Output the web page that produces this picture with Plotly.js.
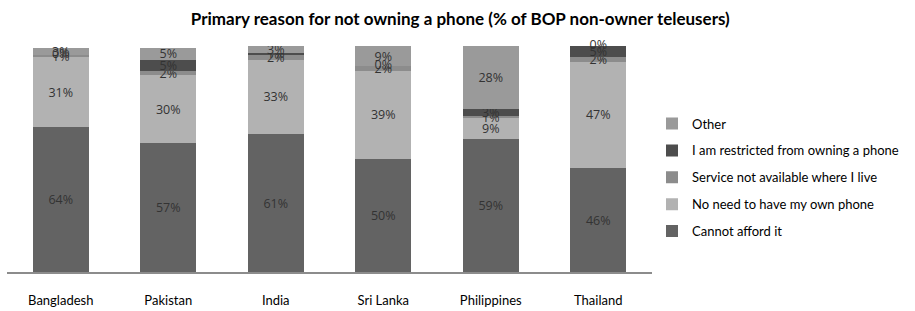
<!DOCTYPE html>
<html><head><meta charset="utf-8">
<script src="https://cdn.plot.ly/plotly-3.0.1.min.js"></script>
<style>html,body{margin:0;padding:0;background:#fff}#chart{width:915px;height:311px}</style>
</head><body><div id="chart"></div>
<script>
const countries = ["Bangladesh", "Pakistan", "India", "Sri Lanka", "Philippines", "Thailand"];
const cannotAfford = [64, 57, 61, 50, 59, 46];
const noNeed = [31, 30, 33, 39, 9, 47];
const serviceNA = [1, 2, 2, 2, 1, 2];
const restricted = [0, 5, 1, 0, 3, 5];
const other = [3, 5, 3, 9, 28, 0];

const seriesNames = ["Cannot afford it", "No need to have my own phone", "Service not available where I live", "I am restricted from owning a phone", "Other"];
const seriesValues = [cannotAfford, noNeed, serviceNA, restricted, other];
const seriesColors = ["#636363", "#b2b2b2", "#8c8c8c", "#4d4d4d", "#9a9a9a"];

const labelFont = {family: "Open Sans, sans-serif", size: 12.5, color: "#333333"};

const traces = seriesNames.map((name, i) => ({
  type: "bar",
  name: name,
  x: countries,
  y: seriesValues[i],
  marker: {color: seriesColors[i], line: {width: 0}},
  text: seriesValues[i].map(v => v + "%"),
  textposition: "inside",
  insidetextanchor: "middle",
  constraintext: "none",
  textangle: 0,
  textfont: labelFont,
  legendgroup: "g" + i,
  legendrank: 10 - i,
  hoverinfo: "skip"
}));

// Labels for zero-height segments (Plotly does not draw text on empty bars)
const zx = [], zy = [], zt = [];
countries.forEach((c, k) => {
  let cum = 0;
  seriesValues.forEach(vals => {
    if (vals[k] === 0) { zx.push(c); zy.push(cum); zt.push("0%"); }
    cum += vals[k];
  });
});
traces.push({
  type: "scatter", mode: "text", x: zx, y: zy, text: zt,
  textposition: "middle center", textfont: labelFont,
  showlegend: false, hoverinfo: "skip", cliponaxis: false
});

const layout = {
  width: 915, height: 311,
  margin: {l: 7, r: 263, t: 46, b: 39},
  barmode: "stack",
  bargap: 0.48,
  paper_bgcolor: "#ffffff",
  plot_bgcolor: "#ffffff",
  font: {family: "Lato, sans-serif", color: "#000000"},
  title: {
    text: "<b>Primary reason for not owning a phone (% of BOP non-owner teleusers)</b>",
    font: {family: "Lato, sans-serif", size: 17, weight: 900, color: "#000000"},
    x: 0.503, xref: "container", xanchor: "center",
    y: 0.94, yref: "container", yanchor: "middle"
  },
  xaxis: {
    showline: true, linecolor: "#8c8c8c", linewidth: 2,
    ticks: "", showgrid: false, zeroline: false,
    tickfont: {family: "Lato, sans-serif", size: 13, color: "#000000"},
    ticklabelstandoff: 15
  },
  yaxis: {
    range: [0, 100], visible: false, showgrid: false, zeroline: false, fixedrange: true
  },
  showlegend: true,
  legend: {
    x: 1, xref: "paper", xanchor: "left", xshift: 4,
    y: 0.418, yanchor: "middle",
    traceorder: "grouped",
    tracegroupgap: 7,
    itemwidth: 30,
    font: {family: "Lato, sans-serif", size: 13, color: "#000000"},
    bgcolor: "rgba(0,0,0,0)"
  }
};

Plotly.newPlot("chart", traces, layout, {staticPlot: true, displayModeBar: false});
</script>
</body></html>
